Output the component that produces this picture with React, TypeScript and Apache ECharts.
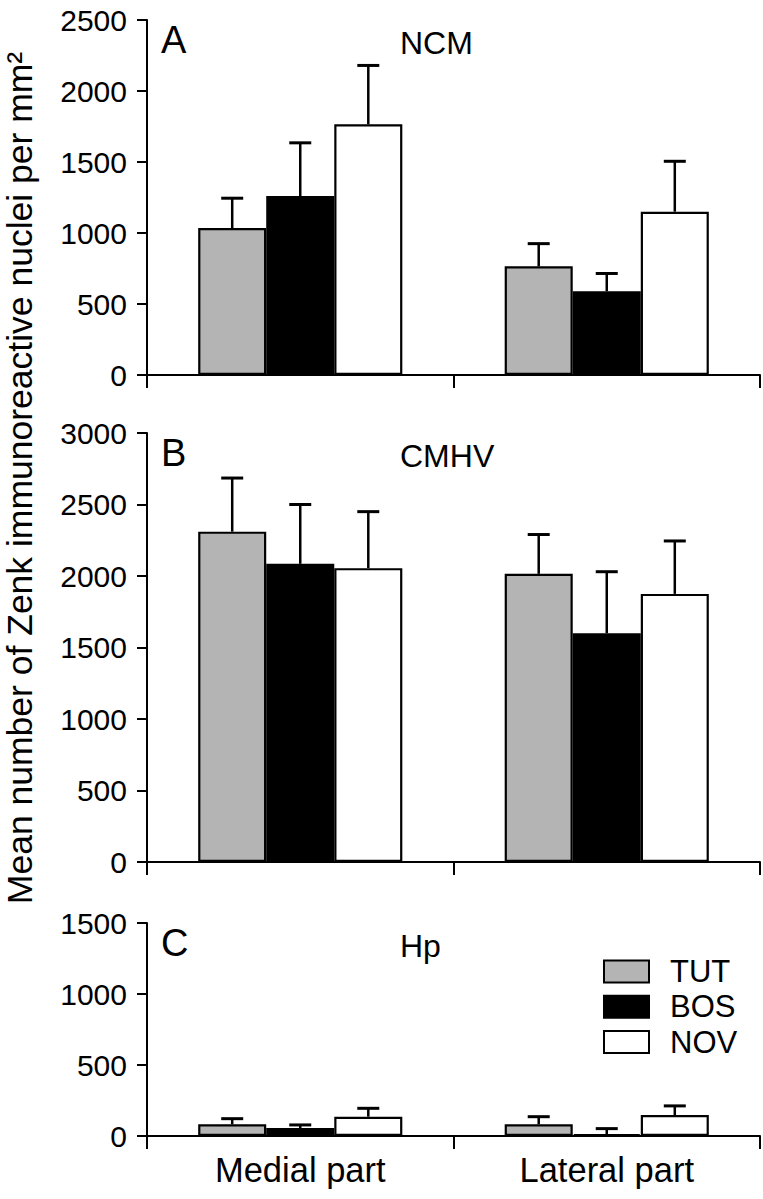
import React, { useEffect, useRef } from "react";
import * as echarts from "echarts";

const categories = ["Medial part", "Lateral part"];
const groups = ["TUT", "BOS", "NOV"];
const colors = ["#b4b4b4", "#000000", "#ffffff"];

// NCM
const ncmTUT = [1035, 765];
const ncmBOS = [1260, 590];
const ncmNOV = [1765, 1150];
const ncmTUTsem = [210, 160];
const ncmBOSsem = [375, 125];
const ncmNOVsem = [415, 355];

// CMHV
const cmhvTUT = [2310, 2015];
const cmhvBOS = [2085, 1600];
const cmhvNOV = [2055, 1875];
const cmhvTUTsem = [375, 275];
const cmhvBOSsem = [415, 430];
const cmhvNOVsem = [395, 370];

// Hp
const hpTUT = [82, 82];
const hpBOS = [56, 14];
const hpNOV = [136, 148];
const hpTUTsem = [40, 54];
const hpBOSsem = [22, 38];
const hpNOVsem = [59, 64];

const panelLetters = ["A", "B", "C"];
const panelTitles = ["NCM", "CMHV", "Hp"];
const yMax = [2500, 3000, 1500];
const yTitle = "Mean number of Zenk immunoreactive nuclei per mm²";

const FONT = "'Liberation Sans', Arial, Helvetica, sans-serif";
const GAP = 0.334;

const grids = [
  { left: 147, top: 20, width: 613, height: 355 },
  { left: 147, top: 433, width: 613, height: 429 },
  { left: 147, top: 923, width: 613, height: 213 },
];

const means = [
  [ncmTUT, ncmBOS, ncmNOV],
  [cmhvTUT, cmhvBOS, cmhvNOV],
  [hpTUT, hpBOS, hpNOV],
];
const sems = [
  [ncmTUTsem, ncmBOSsem, ncmNOVsem],
  [cmhvTUTsem, cmhvBOSsem, cmhvNOVsem],
  [hpTUTsem, hpBOSsem, hpNOVsem],
];

export default function App() {
  const ref = useRef<HTMLDivElement>(null);
  useEffect(() => {
    if (!ref.current) return;
    const chart = echarts.init(ref.current, null, { renderer: "svg" });

    const xAxis: any[] = [];
    const yAxis: any[] = [];
    const series: any[] = [];
    const graphic: any[] = [];

    grids.forEach((g, p) => {
      xAxis.push({
        type: "category",
        gridIndex: p,
        data: categories,
        axisLine: { show: true, lineStyle: { color: "#000", width: 2 } },
        axisTick: { show: true, length: 13, lineStyle: { color: "#000", width: 2 } },
        axisLabel: {
          show: p === 2,
          color: "#000",
          fontSize: 34.5,
          fontFamily: FONT,
          margin: 16,
        },
      });
      yAxis.push({
        type: "value",
        gridIndex: p,
        min: 0,
        max: yMax[p],
        interval: 500,
        splitLine: { show: false },
        axisLine: { show: true, lineStyle: { color: "#000", width: 2 } },
        axisTick: { show: true, length: 10, lineStyle: { color: "#000", width: 2 } },
        axisLabel: {
          color: "#000",
          fontSize: 30,
          fontFamily: FONT,
          margin: 20,
          formatter: (v: number) => String(v),
        },
      });
      groups.forEach((name, k) => {
        series.push({
          type: "bar",
          name,
          xAxisIndex: p,
          yAxisIndex: p,
          data: means[p][k],
          barGap: "0%",
          barCategoryGap: GAP * 100 + "%",
          itemStyle: { color: colors[k], borderColor: "#000", borderWidth: 2.2 },
          z: 2,
        });
      });
      const errData: number[][] = [];
      groups.forEach((_, k) => {
        means[p][k].forEach((m, c) => {
          errData.push([c, k, m, m + sems[p][k][c]]);
        });
      });
      series.push({
        type: "custom",
        name: "err" + p,
        xAxisIndex: p,
        yAxisIndex: p,
        data: errData,
        z: 3,
        encode: { x: 0, y: 3 },
        renderItem: (params: any, api: any) => {
          const c = api.value(0);
          const k = api.value(1);
          const m = api.value(2);
          const t = api.value(3);
          const base = api.coord([c, m]);
          const topP = api.coord([c, t]);
          const catW = api.size([1, 0])[0];
          const bw = (catW * (1 - GAP)) / 3;
          const x = base[0] + (k - 1) * bw;
          return {
            type: "group",
            children: [
              {
                type: "line",
                shape: { x1: x, y1: base[1], x2: x, y2: topP[1] },
                style: { stroke: "#000", lineWidth: 2.5 },
              },
              {
                type: "line",
                shape: { x1: x - 11, y1: topP[1], x2: x + 11, y2: topP[1] },
                style: { stroke: "#000", lineWidth: 3 },
              },
            ],
          };
        },
      });
      graphic.push({
        type: "text",
        x: 161,
        y: g.top + 20,
        style: {
          text: panelLetters[p],
          fontSize: 38,
          fontFamily: FONT,
          fill: "#000",
          align: "left",
          verticalAlign: "middle",
        },
      });
      graphic.push({
        type: "text",
        x: 400,
        y: g.top + 23,
        style: {
          text: panelTitles[p],
          fontSize: 32,
          fontFamily: FONT,
          fill: "#000",
          align: "left",
          verticalAlign: "middle",
        },
      });
    });

    graphic.push({
      type: "text",
      x: 20,
      y: 478,
      rotation: Math.PI / 2,
      style: {
        text: yTitle,
        fontSize: 35.5,
        fontFamily: FONT,
        fill: "#000",
        align: "center",
        verticalAlign: "middle",
      },
    });

    chart.setOption({
      animation: false,
      backgroundColor: "#fff",
      textStyle: { fontFamily: FONT },
      grid: grids,
      xAxis,
      yAxis,
      series,
      graphic,
      legend: {
        data: groups,
        orient: "vertical",
        left: 598,
        top: 951,
        itemWidth: 45,
        itemHeight: 22,
        itemGap: 4.25,
        icon: "rect",
        itemStyle: { borderColor: "#000", borderWidth: 2 },
        textStyle: {
          fontSize: 31,
          fontFamily: FONT,
          color: "#000",
          lineHeight: 30,
          padding: [0, 0, 0, 16],
        },
      },
    });
    return () => chart.dispose();
  }, []);
  return (
    <div
      ref={ref}
      style={{
        position: "absolute",
        left: 0,
        top: 0,
        width: 763,
        height: 1199,
        background: "#fff",
      }}
    />
  );
}
